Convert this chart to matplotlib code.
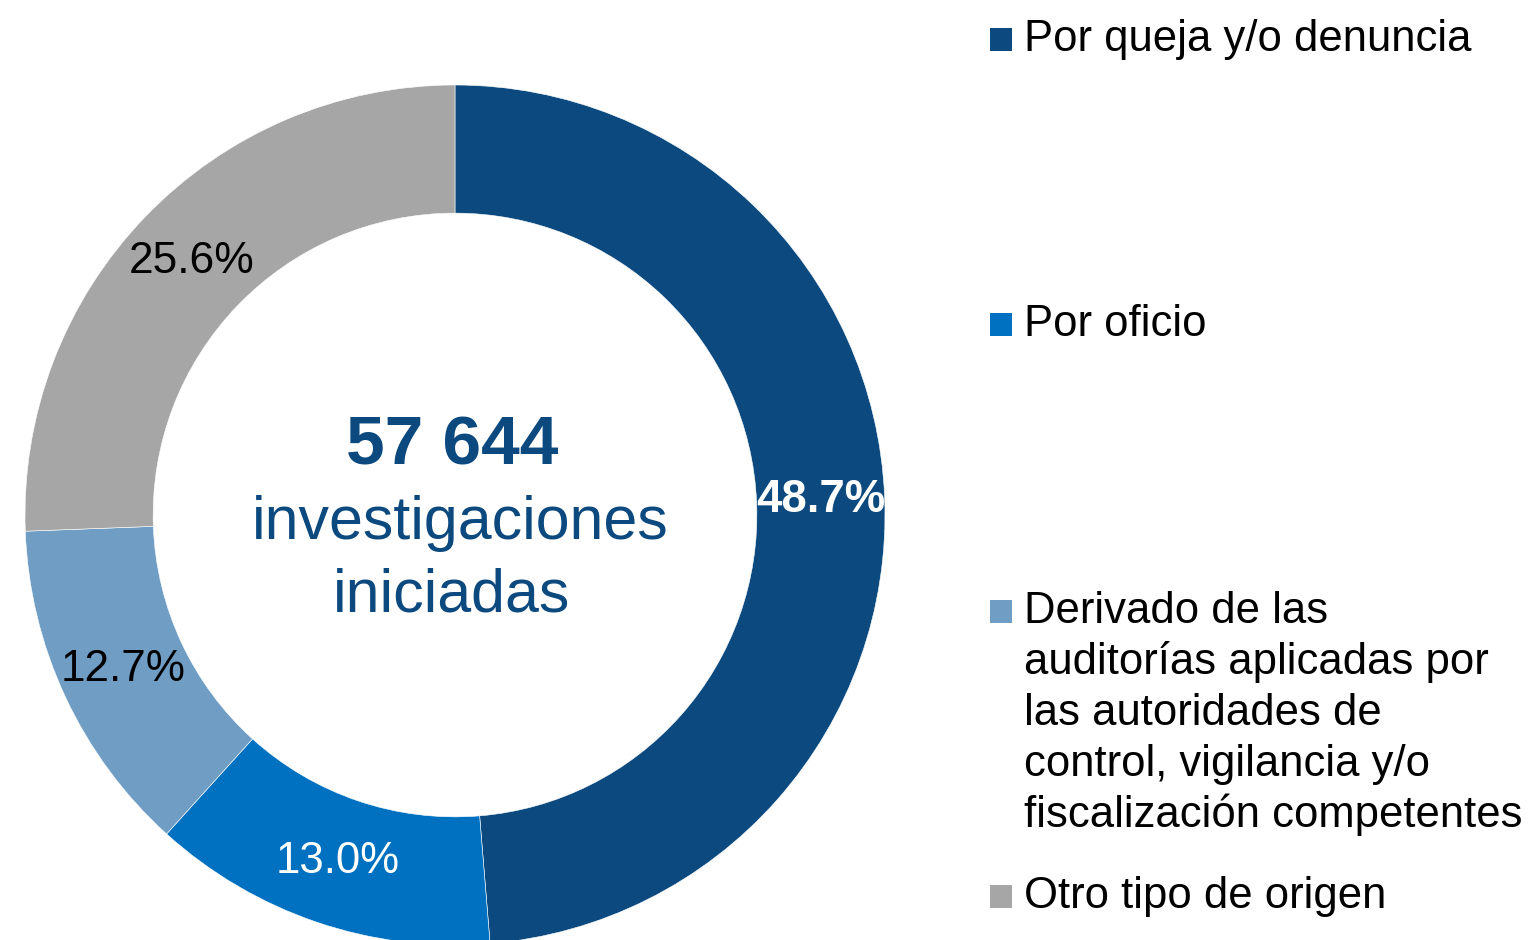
import matplotlib
matplotlib.use("Agg")
import matplotlib.pyplot as plt
from matplotlib.patches import Rectangle

plt.rcParams['font.family'] = ['Liberation Sans', 'DejaVu Sans']

# Data
categories = [
    "Por queja y/o denuncia",
    "Por oficio",
    "Derivado de las\nauditorías aplicadas por\nlas autoridades de\ncontrol, vigilancia y/o\nfiscalización competentes",
    "Otro tipo de origen",
]
values = [48.7, 13.0, 12.7, 25.6]
total_text = "57 644"
center_lines = ["investigaciones", "iniciadas"]

colors = ["#0B497E", "#0070C0", "#6F9DC4", "#A6A6A6"]
label_colors = ["white", "white", "black", "black"]
label_weights = ["bold", "normal", "normal", "normal"]
label_sizes = [32.8, 31.5, 31.7, 31.9]

W, H = 1530, 940
fig = plt.figure(figsize=(W / 100, H / 100), dpi=100)

cx, cy, R = 455, 515, 430
ax = fig.add_axes([(cx - R) / W, (H - cy - R) / H, 2 * R / W, 2 * R / H])
wedges, texts, autotexts = ax.pie(
    values, colors=colors, startangle=90, counterclock=False, radius=1.0,
    wedgeprops=dict(width=0.298, edgecolor="white", linewidth=0.4),
    autopct="%.1f%%", pctdistance=0.851,
    textprops=dict(fontsize=31.5),
)
for t, c, w, s in zip(autotexts, label_colors, label_weights, label_sizes):
    t.set_color(c)
    t.set_fontweight(w)
    t.set_fontsize(s)
ax.set_xlim(-1, 1)
ax.set_ylim(-1, 1)
ax.set_aspect("equal")
ax.axis("off")

def fx(x):
    return x / W

def fy(y):
    return 1 - y / H

# Center text
fig.text(fx(452), fy(464), total_text, ha="center", va="baseline",
         fontsize=50, fontweight="bold", color="#0B497E")
fig.text(fx(460), fy(539), center_lines[0], ha="center", va="baseline",
         fontsize=43.8, color="#0B497E")
fig.text(fx(452), fy(612), center_lines[1], ha="center", va="baseline",
         fontsize=43.8, color="#0B497E")

# Legend
baselines = [51, 336, 623, 908]
line_step = 51
for cat, col, b in zip(categories, colors, baselines):
    fig.patches.append(Rectangle((fx(990), fy(b)), 22 / W, 23 / H,
                                 transform=fig.transFigure, facecolor=col,
                                 edgecolor="none"))
    for i, line in enumerate(cat.split("\n")):
        fig.text(fx(1024), fy(b + i * line_step), line, ha="left",
                 va="baseline", fontsize=31.4, color="black")

fig.savefig("out.png", dpi=100, facecolor="white")
